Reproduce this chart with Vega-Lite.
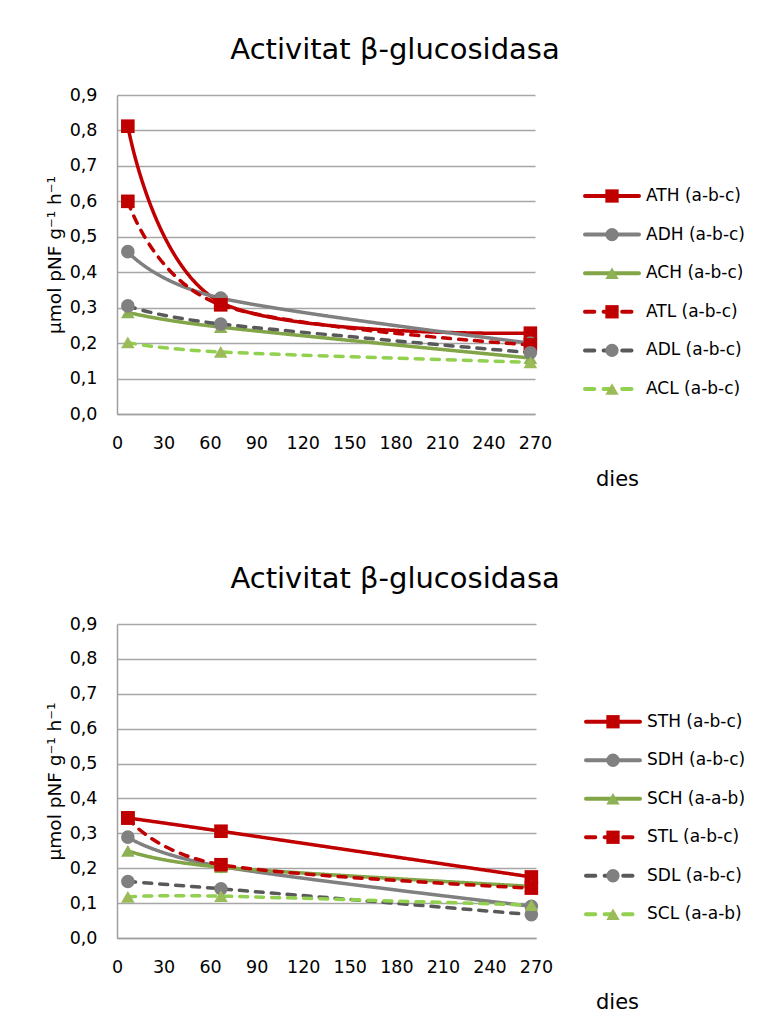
{
  "$schema": "https://vega.github.io/schema/vega-lite/v6.json",
  "background": "white",
  "padding": {"left": 45, "top": 36, "right": 5, "bottom": 5},
  "config": {
    "font": "DejaVu Sans",
    "view": {"stroke": null},
    "title": {"font": "DejaVu Sans", "fontSize": 29, "fontWeight": "normal", "color": "#000000", "anchor": "middle", "offset": 21},
    "axis": {"labelFont": "DejaVu Sans", "titleFont": "DejaVu Sans", "labelColor": "#000000", "titleColor": "#000000", "titleFontWeight": "normal", "labelOverlap": false, "labelFlush": false}
  },
  "datasets": {
    "A": [
      {"series": "ATH (a-b-c)", "day": 7, "value": 0.812},
      {"series": "ATH (a-b-c)", "day": 67, "value": 0.315},
      {"series": "ATH (a-b-c)", "day": 267, "value": 0.228},
      {"series": "ADH (a-b-c)", "day": 7, "value": 0.458},
      {"series": "ADH (a-b-c)", "day": 67, "value": 0.327},
      {"series": "ADH (a-b-c)", "day": 267, "value": 0.2},
      {"series": "ACH (a-b-c)", "day": 7, "value": 0.287},
      {"series": "ACH (a-b-c)", "day": 67, "value": 0.245},
      {"series": "ACH (a-b-c)", "day": 267, "value": 0.158},
      {"series": "ATL (a-b-c)", "day": 7, "value": 0.6},
      {"series": "ATL (a-b-c)", "day": 67, "value": 0.308},
      {"series": "ATL (a-b-c)", "day": 267, "value": 0.195},
      {"series": "ADL (a-b-c)", "day": 7, "value": 0.305},
      {"series": "ADL (a-b-c)", "day": 67, "value": 0.254},
      {"series": "ADL (a-b-c)", "day": 267, "value": 0.173},
      {"series": "ACL (a-b-c)", "day": 7, "value": 0.202},
      {"series": "ACL (a-b-c)", "day": 67, "value": 0.175},
      {"series": "ACL (a-b-c)", "day": 267, "value": 0.146}
    ],
    "S": [
      {"series": "STH (a-b-c)", "day": 7, "value": 0.344},
      {"series": "STH (a-b-c)", "day": 67, "value": 0.306},
      {"series": "STH (a-b-c)", "day": 267, "value": 0.175},
      {"series": "SDH (a-b-c)", "day": 7, "value": 0.289},
      {"series": "SDH (a-b-c)", "day": 67, "value": 0.205},
      {"series": "SDH (a-b-c)", "day": 267, "value": 0.091},
      {"series": "SCH (a-a-b)", "day": 7, "value": 0.25},
      {"series": "SCH (a-a-b)", "day": 67, "value": 0.203},
      {"series": "SCH (a-a-b)", "day": 267, "value": 0.148},
      {"series": "STL (a-b-c)", "day": 7, "value": 0.344},
      {"series": "STL (a-b-c)", "day": 67, "value": 0.21},
      {"series": "STL (a-b-c)", "day": 267, "value": 0.143},
      {"series": "SDL (a-b-c)", "day": 7, "value": 0.162},
      {"series": "SDL (a-b-c)", "day": 67, "value": 0.141},
      {"series": "SDL (a-b-c)", "day": 267, "value": 0.067},
      {"series": "SCL (a-a-b)", "day": 7, "value": 0.118},
      {"series": "SCL (a-a-b)", "day": 67, "value": 0.12},
      {"series": "SCL (a-a-b)", "day": 267, "value": 0.094}
    ]
  },
  "spacing": 76,
  "resolve": {"scale": {"x": "independent", "y": "independent", "stroke": "independent", "fill": "independent", "shape": "independent", "strokeDash": "independent"}},
  "vconcat": [
    {
      "title": {"text": "Activitat β-glucosidasa"},
      "bounds": "flush",
      "spacing": 50,
      "resolve": {"scale": {"x": "independent", "y": "independent", "stroke": "independent", "fill": "independent", "shape": "independent", "strokeDash": "independent"}},
      "hconcat": [
        {
          "width": 418,
          "height": 319,
          "data": {"name": "A"},
          "encoding": {
            "x": {"field": "day", "type": "quantitative", "scale": {"domain": [0, 270], "nice": false, "zero": false},
              "axis": {"values": [0, 30, 60, 90, 120, 150, 180, 210, 240, 270], "grid": false, "ticks": false, "tickSize": 0, "domainColor": "#A0A0A0", "domainWidth": 1.5, "labelPadding": 20, "labelFontSize": 17.5, "title": "dies", "titleX": 500, "titleY": 71, "titleBaseline": "alphabetic", "titleAlign": "center", "titleFontSize": 21}},
            "y": {"field": "value", "type": "quantitative", "scale": {"domain": [0, 0.9], "nice": false},
              "axis": {"values": [0, 0.1, 0.2, 0.3, 0.4, 0.5, 0.6, 0.7, 0.8, 0.9], "labelExpr": "replace(format(datum.value, '.1f'), '.', ',')", "grid": true, "gridColor": "#A6A6A6", "gridWidth": 1.3, "ticks": false, "tickSize": 0, "domainColor": "#A0A0A0", "domainWidth": 1.5, "labelPadding": 20, "labelFontSize": 17.5, "title": "µmol pNF g⁻¹ h⁻¹", "titleFontSize": 18.5, "titleX": -57, "titleBaseline": "alphabetic"}}
          },
          "layer": [
            {
              "mark": {"type": "line", "interpolate": "cardinal", "strokeWidth": 3.5, "strokeCap": "round"},
              "encoding": {
                "stroke": {"field": "series", "type": "nominal", "legend": null, "scale": {"domain": ["ATH (a-b-c)", "ADH (a-b-c)", "ACH (a-b-c)", "ATL (a-b-c)", "ADL (a-b-c)", "ACL (a-b-c)"], "range": ["#C00000", "#808080", "#82A548", "#C00000", "#595959", "#92D050"]}},
                "strokeDash": {"field": "series", "type": "nominal", "legend": null, "scale": {"domain": ["ATH (a-b-c)", "ADH (a-b-c)", "ACH (a-b-c)", "ATL (a-b-c)", "ADL (a-b-c)", "ACL (a-b-c)"], "range": [[1, 0], [1, 0], [1, 0], [8, 8], [8, 8], [8, 8]]}}
              }
            },
            {
              "mark": {"type": "point", "filled": true, "opacity": 1, "size": 185},
              "encoding": {
                "fill": {"field": "series", "type": "nominal", "legend": null, "scale": {"domain": ["ATH (a-b-c)", "ADH (a-b-c)", "ACH (a-b-c)", "ATL (a-b-c)", "ADL (a-b-c)", "ACL (a-b-c)"], "range": ["#C00000", "#808080", "#8DB255", "#C00000", "#808080", "#9BBB59"]}},
                "shape": {"field": "series", "type": "nominal", "legend": null, "scale": {"domain": ["ATH (a-b-c)", "ADH (a-b-c)", "ACH (a-b-c)", "ATL (a-b-c)", "ADL (a-b-c)", "ACL (a-b-c)"], "range": ["square", "circle", "triangle-up", "square", "circle", "triangle-up"]}}
              }
            }
          ]
        },
        {
          "width": 54,
          "height": 319,
          "data": {"name": "A"},
          "transform": [{"filter": "datum.day == 7"}],
          "encoding": {
            "y": {"field": "series", "type": "nominal", "axis": null, "scale": {"domain": ["ATH (a-b-c)", "ADH (a-b-c)", "ACH (a-b-c)", "ATL (a-b-c)", "ADL (a-b-c)", "ACL (a-b-c)"], "range": [81.7, 313.3]}}
          },
          "layer": [
            {
              "mark": {"type": "rule", "strokeWidth": 4, "strokeCap": "round"},
              "encoding": {
                "x": {"datum": 0, "type": "quantitative", "scale": {"domain": [0, 1]}, "axis": null},
                "x2": {"datum": 1},
                "stroke": {"field": "series", "type": "nominal", "legend": null, "scale": {"domain": ["ATH (a-b-c)", "ADH (a-b-c)", "ACH (a-b-c)", "ATL (a-b-c)", "ADL (a-b-c)", "ACL (a-b-c)"], "range": ["#C00000", "#808080", "#82A548", "#C00000", "#595959", "#92D050"]}},
                "strokeDash": {"field": "series", "type": "nominal", "legend": null, "scale": {"domain": ["ATH (a-b-c)", "ADH (a-b-c)", "ACH (a-b-c)", "ATL (a-b-c)", "ADL (a-b-c)", "ACL (a-b-c)"], "range": [[1, 0], [1, 0], [1, 0], [9.3, 9.3], [9.3, 9.3], [9.3, 9.3]]}}
              }
            },
            {
              "mark": {"type": "point", "filled": true, "opacity": 1, "size": 177},
              "encoding": {
                "x": {"datum": 0.5, "type": "quantitative"},
                "fill": {"field": "series", "type": "nominal", "legend": null, "scale": {"domain": ["ATH (a-b-c)", "ADH (a-b-c)", "ACH (a-b-c)", "ATL (a-b-c)", "ADL (a-b-c)", "ACL (a-b-c)"], "range": ["#C00000", "#808080", "#8DB255", "#C00000", "#808080", "#9BBB59"]}},
                "shape": {"field": "series", "type": "nominal", "legend": null, "scale": {"domain": ["ATH (a-b-c)", "ADH (a-b-c)", "ACH (a-b-c)", "ATL (a-b-c)", "ADL (a-b-c)", "ACL (a-b-c)"], "range": ["square", "circle", "triangle-up", "square", "circle", "triangle-up"]}}
              }
            },
            {
              "mark": {"type": "text", "align": "left", "baseline": "middle", "dx": 7, "fontSize": 17, "font": "DejaVu Sans", "color": "#000000"},
              "encoding": {
                "x": {"datum": 1, "type": "quantitative"},
                "text": {"field": "series"}
              }
            }
          ]
        }
      ]
    },
    {
      "title": {"text": "Activitat β-glucosidasa"},
      "bounds": "flush",
      "spacing": 50,
      "resolve": {"scale": {"x": "independent", "y": "independent", "stroke": "independent", "fill": "independent", "shape": "independent", "strokeDash": "independent"}},
      "hconcat": [
        {
          "width": 419,
          "height": 314,
          "data": {"name": "S"},
          "encoding": {
            "x": {"field": "day", "type": "quantitative", "scale": {"domain": [0, 270], "nice": false, "zero": false},
              "axis": {"values": [0, 30, 60, 90, 120, 150, 180, 210, 240, 270], "grid": false, "ticks": false, "tickSize": 0, "domainColor": "#A0A0A0", "domainWidth": 1.5, "labelPadding": 20, "labelFontSize": 17.5, "title": "dies", "titleX": 500, "titleY": 70, "titleBaseline": "alphabetic", "titleAlign": "center", "titleFontSize": 21}},
            "y": {"field": "value", "type": "quantitative", "scale": {"domain": [0, 0.9], "nice": false},
              "axis": {"values": [0, 0.1, 0.2, 0.3, 0.4, 0.5, 0.6, 0.7, 0.8, 0.9], "labelExpr": "replace(format(datum.value, '.1f'), '.', ',')", "grid": true, "gridColor": "#A6A6A6", "gridWidth": 1.3, "ticks": false, "tickSize": 0, "domainColor": "#A0A0A0", "domainWidth": 1.5, "labelPadding": 20, "labelFontSize": 17.5, "title": "µmol pNF g⁻¹ h⁻¹", "titleFontSize": 18.5, "titleX": -57, "titleBaseline": "alphabetic"}}
          },
          "layer": [
            {
              "mark": {"type": "line", "interpolate": "cardinal", "strokeWidth": 3.5, "strokeCap": "round"},
              "encoding": {
                "stroke": {"field": "series", "type": "nominal", "legend": null, "scale": {"domain": ["STH (a-b-c)", "SDH (a-b-c)", "SCH (a-a-b)", "STL (a-b-c)", "SDL (a-b-c)", "SCL (a-a-b)"], "range": ["#C00000", "#808080", "#82A548", "#C00000", "#595959", "#92D050"]}},
                "strokeDash": {"field": "series", "type": "nominal", "legend": null, "scale": {"domain": ["STH (a-b-c)", "SDH (a-b-c)", "SCH (a-a-b)", "STL (a-b-c)", "SDL (a-b-c)", "SCL (a-a-b)"], "range": [[1, 0], [1, 0], [1, 0], [8, 8], [8, 8], [8, 8]]}}
              }
            },
            {
              "mark": {"type": "point", "filled": true, "opacity": 1, "size": 185},
              "encoding": {
                "fill": {"field": "series", "type": "nominal", "legend": null, "scale": {"domain": ["STH (a-b-c)", "SDH (a-b-c)", "SCH (a-a-b)", "STL (a-b-c)", "SDL (a-b-c)", "SCL (a-a-b)"], "range": ["#C00000", "#808080", "#8DB255", "#C00000", "#808080", "#9BBB59"]}},
                "shape": {"field": "series", "type": "nominal", "legend": null, "scale": {"domain": ["STH (a-b-c)", "SDH (a-b-c)", "SCH (a-a-b)", "STL (a-b-c)", "SDL (a-b-c)", "SCL (a-a-b)"], "range": ["square", "circle", "triangle-up", "square", "circle", "triangle-up"]}}
              }
            }
          ]
        },
        {
          "width": 54,
          "height": 314,
          "data": {"name": "S"},
          "transform": [{"filter": "datum.day == 7"}],
          "encoding": {
            "y": {"field": "series", "type": "nominal", "axis": null, "scale": {"domain": ["STH (a-b-c)", "SDH (a-b-c)", "SCH (a-a-b)", "STL (a-b-c)", "SDL (a-b-c)", "SCL (a-a-b)"], "range": [78.5, 309.5]}}
          },
          "layer": [
            {
              "mark": {"type": "rule", "strokeWidth": 4, "strokeCap": "round"},
              "encoding": {
                "x": {"datum": 0, "type": "quantitative", "scale": {"domain": [0, 1]}, "axis": null},
                "x2": {"datum": 1},
                "stroke": {"field": "series", "type": "nominal", "legend": null, "scale": {"domain": ["STH (a-b-c)", "SDH (a-b-c)", "SCH (a-a-b)", "STL (a-b-c)", "SDL (a-b-c)", "SCL (a-a-b)"], "range": ["#C00000", "#808080", "#82A548", "#C00000", "#595959", "#92D050"]}},
                "strokeDash": {"field": "series", "type": "nominal", "legend": null, "scale": {"domain": ["STH (a-b-c)", "SDH (a-b-c)", "SCH (a-a-b)", "STL (a-b-c)", "SDL (a-b-c)", "SCL (a-a-b)"], "range": [[1, 0], [1, 0], [1, 0], [9.3, 9.3], [9.3, 9.3], [9.3, 9.3]]}}
              }
            },
            {
              "mark": {"type": "point", "filled": true, "opacity": 1, "size": 177},
              "encoding": {
                "x": {"datum": 0.5, "type": "quantitative"},
                "fill": {"field": "series", "type": "nominal", "legend": null, "scale": {"domain": ["STH (a-b-c)", "SDH (a-b-c)", "SCH (a-a-b)", "STL (a-b-c)", "SDL (a-b-c)", "SCL (a-a-b)"], "range": ["#C00000", "#808080", "#8DB255", "#C00000", "#808080", "#9BBB59"]}},
                "shape": {"field": "series", "type": "nominal", "legend": null, "scale": {"domain": ["STH (a-b-c)", "SDH (a-b-c)", "SCH (a-a-b)", "STL (a-b-c)", "SDL (a-b-c)", "SCL (a-a-b)"], "range": ["square", "circle", "triangle-up", "square", "circle", "triangle-up"]}}
              }
            },
            {
              "mark": {"type": "text", "align": "left", "baseline": "middle", "dx": 7, "fontSize": 17, "font": "DejaVu Sans", "color": "#000000"},
              "encoding": {
                "x": {"datum": 1, "type": "quantitative"},
                "text": {"field": "series"}
              }
            }
          ]
        }
      ]
    }
  ]
}
